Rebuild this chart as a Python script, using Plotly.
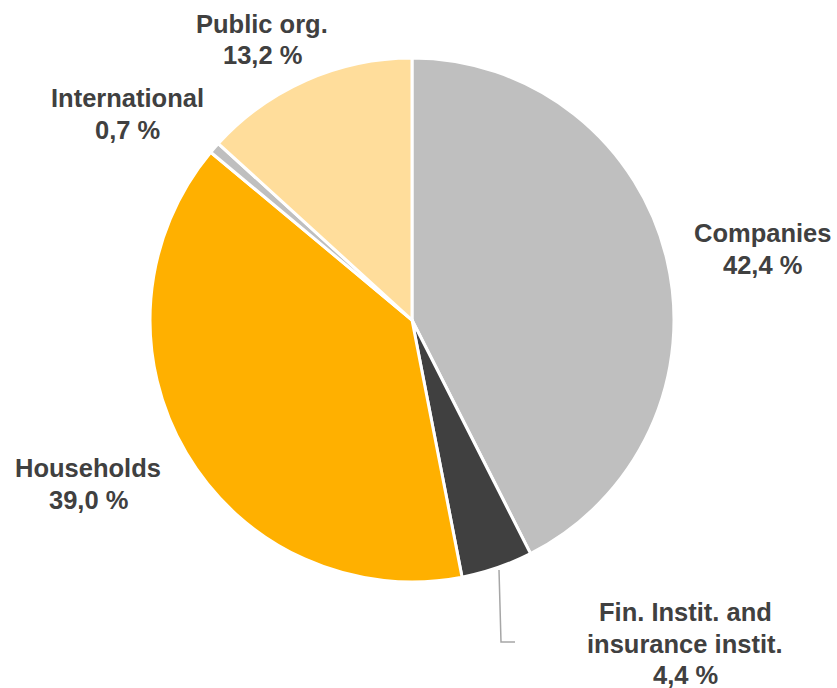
import plotly.graph_objects as go

# Sector shares (%), listed clockwise from 12 o'clock
sectors = ["Companies", "Fin. Instit. and insurance instit.", "Households", "International", "Public org."]
label_lines = [["Companies"], ["Fin. Instit. and", "insurance instit."], ["Households"],
               ["International"], ["Public org."]]
shares = [42.4, 4.4, 39.0, 0.7, 13.2]
colors = ["#BFBFBF", "#404040", "#FFB000", "#BFBFBF", "#FFDD9B"]

W, H = 837, 688
cx, cy, r = 411, 320, 262

fig = go.Figure(go.Pie(
    labels=sectors,
    values=shares,
    sort=False,
    direction="clockwise",
    rotation=0,
    marker=dict(colors=colors, line=dict(color="#FFFFFF", width=3)),
    textinfo="none",
    hoverinfo="label+percent",
    showlegend=False,
    domain=dict(x=[(cx - r) / W, (cx + r + 2) / W], y=[1 - (cy + r) / H, 1 - (cy - r) / H]),
))

# Centre of the first label line (pixels from top-left) for each sector
label_pos = [(762, 233), (685, 612), (88, 468), (128, 98), (262, 24)]
line_gap = 31.5


def fmt(v):
    return f"{v:.1f}".replace(".", ",") + " %"


for lines, val, (x, y) in zip(label_lines, shares, label_pos):
    for i, txt in enumerate(lines + [fmt(val)]):
        fig.add_annotation(
            x=x / W, y=1 - (y + i * line_gap) / H, xref="paper", yref="paper",
            text=f"<b>{txt}</b>",
            showarrow=False, xanchor="center", yanchor="middle",
            font=dict(family="Liberation Sans, Arial", size=25.5, color="#404040"),
        )

# Leader line for the small financial-institutions slice
fig.add_shape(type="path", xref="paper", yref="paper",
              path=f"M {499/W} {1-570/H} L {501/W} {1-642/H} L {515/W} {1-642/H}",
              line=dict(color="#A6A6A6", width=1.5))

fig.update_layout(
    width=W, height=H,
    margin=dict(l=0, r=0, t=0, b=0),
    paper_bgcolor="white", plot_bgcolor="white",
)

fig.write_html("out.html")
